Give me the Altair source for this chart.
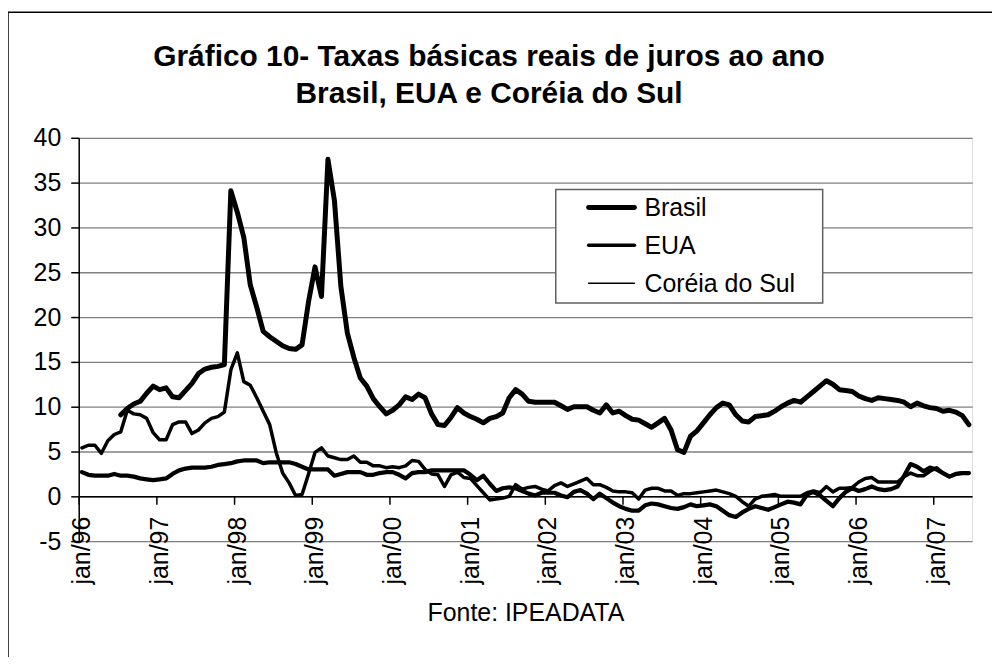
import altair as alt
import pandas as pd

# ---------------- data (monthly, jan/96 .. jun/07) ----------------
series_names = ["Brasil", "EUA", "Coréia do Sul"]

brasil = [None, None, None, None, None, None,
          9.1, 9.8, 10.3, 10.6, 11.5, 12.3,            # 1996
          11.9, 12.1, 11.1, 11.0, 11.8, 12.6, 13.7, 14.2, 14.4, 14.5, 14.7, 34.1,   # 1997
          31.7, 28.9, 23.6, 21.1, 18.4, 17.8, 17.3, 16.8, 16.5, 16.4, 16.9, 21.7,   # 1998
          25.6, 22.3, 37.6, 33.0, 23.4, 18.2, 15.5, 13.2, 12.3, 10.9, 10.0, 9.2,    # 1999
          9.6, 10.2, 11.1, 10.8, 11.4, 11.0, 9.2, 8.0, 7.9, 8.8, 9.9, 9.3,          # 2000
          8.9, 8.6, 8.2, 8.7, 8.9, 9.3, 11.0, 11.9, 11.4, 10.6, 10.5, 10.5,         # 2001
          10.5, 10.5, 10.1, 9.7, 10.0, 10.0, 10.0, 9.6, 9.3, 10.2, 9.3, 9.5,        # 2002
          9.0, 8.6, 8.5, 8.1, 7.7, 8.2, 8.7, 7.4, 5.2, 4.9, 6.7, 7.3,               # 2003
          8.2, 9.1, 9.9, 10.4, 10.2, 9.1, 8.4, 8.3, 8.9, 9.0, 9.1, 9.5,             # 2004
          10.0, 10.4, 10.7, 10.5, 11.1, 11.7, 12.3, 12.9, 12.5, 11.9, 11.8, 11.7,   # 2005
          11.2, 10.9, 10.7, 11.0, 10.9, 10.8, 10.7, 10.5, 10.0, 10.4, 10.1, 9.9,    # 2006
          9.8, 9.5, 9.6, 9.4, 9.0, 8.0]                                              # 2007

eua = [2.7, 2.4, 2.3, 2.3, 2.3, 2.5, 2.3, 2.3, 2.2, 2.0, 1.9, 1.8,
       1.9, 2.0, 2.5, 2.9, 3.1, 3.2, 3.2, 3.2, 3.3, 3.5, 3.6, 3.7,
       3.9, 4.0, 4.0, 4.0, 3.7, 3.8, 3.8, 3.8, 3.8, 3.6, 3.3, 3.0,
       3.0, 3.0, 3.0, 2.3, 2.5, 2.7, 2.7, 2.7, 2.4, 2.4, 2.6, 2.7,
       2.7, 2.4, 2.0, 2.6, 2.7, 2.7, 2.9, 2.9, 2.9, 2.9, 2.9, 2.9,
       2.4, 1.8, 2.3, 1.4, 0.6, 0.9, 1.0, 0.9, 0.6, 0.3, 0.1, 0.4,
       0.4, 0.4, 0.1, -0.1, 0.5, 0.7, 0.3, -0.3, 0.3, -0.2, -0.7, -1.1,
       -1.4, -1.6, -1.6, -1.0, -0.8, -0.9, -1.1, -1.3, -1.4, -1.2, -0.9, -1.1,
       -1.0, -0.9, -1.1, -1.6, -2.1, -2.3, -1.8, -1.4, -1.1, -1.3, -1.5, -1.2,
       -0.9, -0.6, -0.7, -0.9, 0.2, 0.5, 0.1, -0.5, -1.1, -0.2, 0.5, 0.9,
       0.6, 0.8, 1.1, 0.8, 0.7, 0.8, 1.1, 2.3, 3.6, 3.3, 2.8, 3.2,
       3.0, 2.6, 2.2, 2.5, 2.6, 2.6]

coreia = [5.4, 5.7, 5.7, 4.8, 6.2, 6.9, 7.2, 9.6, 9.2, 9.1, 8.7, 7.1,
          6.3, 6.3, 8.0, 8.3, 8.3, 7.0, 7.4, 8.2, 8.7, 8.9, 9.4, 14.1,
          16.0, 12.8, 12.4, 11.0, 9.5, 8.0, 4.9, 2.6, 1.5, 0.1, 0.2, 2.5,
          4.9, 5.4, 4.5, 4.3, 4.1, 4.1, 4.5, 3.8, 3.8, 3.4, 3.4, 3.2,
          3.3, 3.2, 3.4, 4.0, 3.9, 3.0, 2.5, 2.4, 1.1, 2.4, 2.7, 2.1,
          2.0, 1.2, 0.4, -0.4, -0.3, -0.2, 0.0, 1.3, 0.8, 1.0, 1.1, 0.8,
          0.6, 1.2, 1.5, 1.1, 1.4, 1.7, 2.0, 1.3, 1.3, 1.0, 0.6, 0.5,
          0.5, 0.4, -0.3, 0.7, 0.9, 0.9, 0.6, 0.6, 0.1, 0.3, 0.3, 0.4,
          0.5, 0.6, 0.7, 0.5, 0.3, 0.0, -0.6, -1.1, -0.3, 0.0, 0.1, 0.2,
          0.0, 0.0, 0.0, 0.0, 0.4, 0.6, 0.4, 1.1, 0.5, 0.9, 0.9, 1.0,
          1.6, 2.0, 2.1, 1.6, 1.6, 1.6, 1.6, 2.2, 2.6, 2.3, 2.3, 2.8,
          3.2, 2.6, 2.2, 2.5, 2.6, 2.6]

tick_labels = ["jan/96", "jan/97", "jan/98", "jan/99", "jan/00", "jan/01",
               "jan/02", "jan/03", "jan/04", "jan/05", "jan/06", "jan/07"]

title_lines = ["Gráfico 10- Taxas básicas reais de juros ao ano",
               "Brasil, EUA e Coréia do Sul"]
source_text = "Fonte: IPEADATA"

# ---------------- build long table ----------------
rows = []
for name, vals in zip(series_names, [brasil, eua, coreia]):
    for i, v in enumerate(vals):
        if v is not None:
            rows.append({"mes": i + 0.5, "taxa": v, "serie": name})
df = pd.DataFrame(rows)

FONT = "Liberation Sans"
W, H = 897, 405
widths = [5, 3.5, 1.5]
n_months = 138

label_js = "[" + ",".join("'" + t + "'" for t in tick_labels) + "]"

lines = alt.Chart(df).mark_line(color="black", strokeJoin="round", strokeCap="round").encode(
    x=alt.X("mes:Q",
            scale=alt.Scale(domain=[0, n_months], nice=False, zero=False),
            axis=alt.Axis(values=list(range(0, n_months - 5, 12)),
                          labelExpr=label_js + "[round(datum.value/12)]",
                          labelAngle=-90, labelAlign="right", labelBaseline="middle",
                          labelFontSize=25, labelFont=FONT, labelColor="black",
                          labelOffset=3, labelPadding=12, tickSize=8,
                          tickColor="black", domainColor="black", domainWidth=1.5,
                          tickWidth=1.5, grid=False, offset=-45,
                          title=source_text, titleFont=FONT, titleFontSize=25,
                          titleFontWeight="normal", titleColor="black",
                          titleBaseline="alphabetic", titleY=125, labelOverlap=False)),
    y=alt.Y("taxa:Q",
            scale=alt.Scale(domain=[-5, 40], nice=False, zero=False),
            axis=alt.Axis(values=list(range(-5, 41, 5)), labelFontSize=25, labelFont=FONT,
                          labelExpr="'' + datum.value",
                          labelColor="black", labelPadding=10, tickSize=8,
                          tickColor="black", tickWidth=1.5, domainColor="black",
                          domainWidth=1.5, gridColor="#808080", gridWidth=1.3,
                          title=None)),
    detail="serie:N",
    strokeWidth=alt.StrokeWidth("serie:N", scale=alt.Scale(domain=series_names, range=widths),
                                legend=None),
)

one = pd.DataFrame({"k": [0]})

# ---------------- title (two centred lines) ----------------
title_layers = []
for txt, yy in zip(title_lines, [-72, -35]):
    title_layers.append(
        alt.Chart(one).mark_text(align="center", baseline="alphabetic", font=FONT,
                                 fontSize=30, fontWeight="bold", color="black").encode(
            x=alt.value(412), y=alt.value(yy), text=alt.value(txt)))

# ---------------- manual legend ----------------
box = alt.Chart(one).mark_rect(fill="white", stroke="#606060", strokeWidth=1.5).encode(
    x=alt.value(479), x2=alt.value(747), y=alt.value(52), y2=alt.value(166))
legend_layers = [box]
row_y = [70, 108, 146]
for name, w, yy in zip(series_names, widths, row_y):
    legend_layers.append(
        alt.Chart(one).mark_rule(color="black", strokeWidth=w, strokeCap="round").encode(
            x=alt.value(512), x2=alt.value(558), y=alt.value(yy)))
    legend_layers.append(
        alt.Chart(one).mark_text(align="left", baseline="middle", font=FONT, fontSize=25,
                                 color="black").encode(
            x=alt.value(568), y=alt.value(yy + 1), text=alt.value(name)))

# ---------------- outer frame (left & top edges) ----------------
frame_left = alt.Chart(one).mark_rule(color="black", strokeWidth=1.5).encode(
    x=alt.value(-71), y=alt.value(-126), y2=alt.value(H + 120))
frame_top = alt.Chart(one).mark_rule(color="black", strokeWidth=1.5).encode(
    x=alt.value(-71), x2=alt.value(W + 30), y=alt.value(-126))

chart = alt.layer(lines, frame_left, frame_top, *title_layers, *legend_layers).properties(
    width=W, height=H,
    padding={"left": 71, "top": 129, "right": 20, "bottom": 115},
    autosize=alt.AutoSizeParams(type="none"),
).configure_view(stroke="#808080", strokeWidth=1.5).configure(background="white")

chart.save("out.html", embed_options={"renderer": "svg", "actions": False})
